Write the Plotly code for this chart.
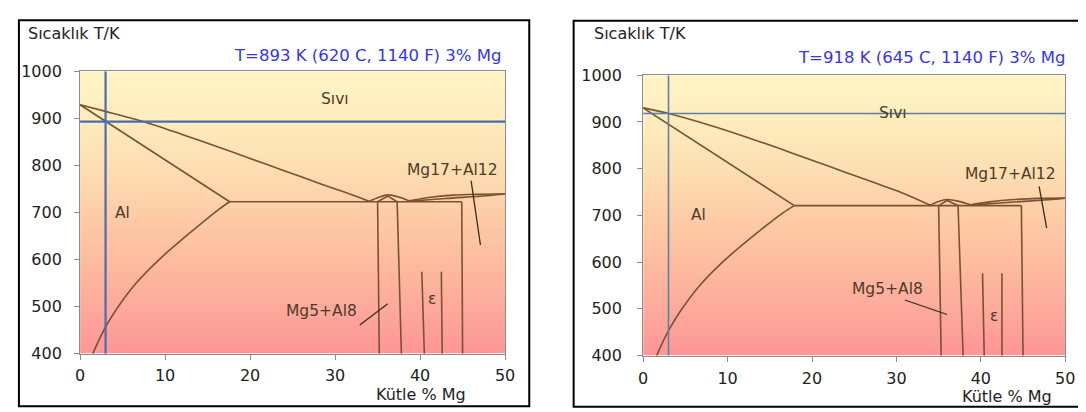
import plotly.graph_objects as go

W, H = 1086, 412

# ---------------- common data ----------------
x_ticks = [0, 10, 20, 30, 40, 50]
T_ticks = [400, 500, 600, 700, 800, 900, 1000]
bg_T = [400, 500, 600, 700, 800, 900, 1000]
bg_colors = ['#fe9696', '#fdaa9c', '#fdbc9f', '#fdcda6', '#fddfb2', '#feecbd', '#fff4c4']

mg_pct = 3
T_left = 893
T_right = 918

title_left = "T=893 K (620 C, 1140 F) 3% Mg"
title_right = "T=918 K (645 C, 1140 F) 3% Mg"
y_label = "Sıcaklık T/K"
x_label = "Kütle % Mg"

# ---------------- left panel data ----------------
L_liq_x = [0, 3, 7.7, 12, 16, 20, 24, 28, 31, 34.0]
L_liq_T = [929, 915, 892, 866, 841, 815, 789, 763, 744, 724]
L_sol_x = [0, 3, 10, 17.6]
L_sol_T = [929, 894, 811, 723]
L_svs_x = [1.5, 2.3, 3.1, 4.3, 6.5, 9.3, 12.8, 16.4, 17.6]
L_svs_T = [400, 432, 460, 495, 548, 600, 655, 708, 723]
L_eut_x = [17.6, 44.9]
L_eut_T = [723, 723]
L_hump_x = [34.0, 35.1, 36.2, 37.5, 38.7]
L_hump_T = [724, 732, 737.5, 733, 725]
L_tent_x = [35.0, 36.2, 37.3]
L_tent_T = [723, 735, 723]
L_up_x = [38.7, 41, 43.9, 47, 50]
L_up_T = [725, 732, 737, 739, 740]
L_lo_x = [38.7, 43, 47.8, 50]
L_lo_T = [724, 730, 735.7, 740]
L_vert_x = [[35.0, 35.2], [37.3, 37.8], [44.9, 45.0], [40.2, 40.5], [42.5, 42.6]]
L_vert_T = [[723, 400], [723, 400], [723, 400], [574, 400], [574, 400]]
L_ptr_x = [[46.0, 47.1], [32.9, 36.2]]
L_ptr_T = [[768, 631], [461, 506]]
L_lab = ["Sıvı", "Mg17+Al12", "Al", "Mg5+Al8", "ε"]
L_lab_x = [30.0, 43.8, 5.0, 28.4, 41.4]
L_lab_T = [942, 791, 700, 490, 517]

# ---------------- right panel data ----------------
R_liq_x = [0, 3, 7.7, 12, 16, 20, 24, 28, 31, 34.0]
R_liq_T = [930, 918, 894, 869, 844, 818, 792, 766, 746, 722]
R_sol_x = [0, 3, 11.3, 17.9]
R_sol_T = [930, 895, 797, 721]
R_svs_x = [1.6, 2.4, 3.2, 4.4, 6.6, 9.4, 12.9, 16.6, 17.9]
R_svs_T = [400, 432, 460, 495, 548, 600, 654, 706, 721]
R_eut_x = [17.9, 44.8]
R_eut_T = [721, 721]
R_hump_x = [34.0, 35.0, 36.0, 37.4, 38.9]
R_hump_T = [722, 730, 734, 730, 722]
R_tent_x = [35.0, 36.0, 37.3]
R_tent_T = [721, 732, 721]
R_up_x = [38.9, 41, 44, 47, 50]
R_up_T = [723, 729, 734, 736.5, 737]
R_lo_x = [38.9, 43, 47.5, 50]
R_lo_T = [722, 727.5, 733, 737]
R_vert_x = [[35.0, 35.3], [37.3, 37.9], [44.8, 45.0], [40.2, 40.4], [42.5, 42.5]]
R_vert_T = [[721, 400], [721, 400], [721, 400], [576, 400], [576, 400]]
R_ptr_x = [[46.9, 47.8], [31.0, 36.0]]
R_ptr_T = [[762, 673], [519, 488]]
R_lab = ["Sıvı", "Mg17+Al12", "Al", "Mg5+Al8", "ε"]
R_lab_x = [29.6, 43.5, 6.6, 29.0, 41.5]
R_lab_T = [919, 789, 700, 542, 485]

LINE = '#7a5232'
LAB = '#4f3a28'
FONT = 'DejaVu Sans'

fig = go.Figure()

cscale = [[(t - bg_T[0]) / (bg_T[-1] - bg_T[0]), c] for t, c in zip(bg_T, bg_colors)]


def panel(ax, liq, sol, svs, eut, hump, tent, up, lo, verts, ptrs, T_cut, blue_col, blue_w):
    xa = 'x' if ax == 1 else 'x2'
    ya = 'y' if ax == 1 else 'y2'
    fig.add_trace(go.Heatmap(x=[0, 50], y=bg_T, z=[[t, t] for t in bg_T],
                             colorscale=cscale, zmin=bg_T[0], zmax=bg_T[-1],
                             zsmooth='best', showscale=False, hoverinfo='skip',
                             xaxis=xa, yaxis=ya))
    curved = [liq, svs, hump, up, lo]
    straight = [sol, eut, tent]
    for sx, sy in curved:
        fig.add_trace(go.Scatter(x=sx, y=sy, mode='lines',
                                 line=dict(color=LINE, width=1.6, shape='spline', smoothing=0.8),
                                 hoverinfo='skip', showlegend=False, xaxis=xa, yaxis=ya))
    for sx, sy in straight:
        fig.add_trace(go.Scatter(x=sx, y=sy, mode='lines', line=dict(color=LINE, width=1.6),
                                 hoverinfo='skip', showlegend=False, xaxis=xa, yaxis=ya))
    for vx, vy in zip(*verts):
        fig.add_trace(go.Scatter(x=vx, y=vy, mode='lines', line=dict(color=LINE, width=1.6),
                                 hoverinfo='skip', showlegend=False, xaxis=xa, yaxis=ya))
    for px, py in zip(*ptrs):
        fig.add_trace(go.Scatter(x=px, y=py, mode='lines', line=dict(color='#3a2a20', width=1.3),
                                 hoverinfo='skip', showlegend=False, xaxis=xa, yaxis=ya))
    # blue cursor lines
    fig.add_trace(go.Scatter(x=[mg_pct, mg_pct], y=[T_ticks[0], T_ticks[-1]], mode='lines',
                             line=dict(color=blue_col, width=blue_w), hoverinfo='skip',
                             showlegend=False, xaxis=xa, yaxis=ya))
    fig.add_trace(go.Scatter(x=[x_ticks[0], x_ticks[-1]], y=[T_cut, T_cut], mode='lines',
                             line=dict(color=blue_col, width=blue_w), hoverinfo='skip',
                             showlegend=False, xaxis=xa, yaxis=ya))


panel(1, (L_liq_x, L_liq_T), (L_sol_x, L_sol_T), (L_svs_x, L_svs_T), (L_eut_x, L_eut_T),
      (L_hump_x, L_hump_T), (L_tent_x, L_tent_T), (L_up_x, L_up_T), (L_lo_x, L_lo_T),
      (L_vert_x, L_vert_T), (L_ptr_x, L_ptr_T), T_left, '#4a6cb4', 2.2)
panel(2, (R_liq_x, R_liq_T), (R_sol_x, R_sol_T), (R_svs_x, R_svs_T), (R_eut_x, R_eut_T),
      (R_hump_x, R_hump_T), (R_tent_x, R_tent_T), (R_up_x, R_up_T), (R_lo_x, R_lo_T),
      (R_vert_x, R_vert_T), (R_ptr_x, R_ptr_T), T_right, '#5a82a8', 1.6)

annotations = []
for labs, lx, lt, xr, yr in [(L_lab, L_lab_x, L_lab_T, 'x', 'y'), (R_lab, R_lab_x, R_lab_T, 'x2', 'y2')]:
    for t, x, y in zip(labs, lx, lt):
        annotations.append(dict(text=t, x=x, y=y, xref=xr, yref=yr, showarrow=False,
                                font=dict(family=FONT, size=15.5, color=LAB)))

# titles, axis names
for txt, xr, yc in [(title_left, 497, 40.5), (title_right, 1069, 42)]:
    annotations.append(dict(text=txt, x=xr / W, y=1 - yc / H, xref='paper', yref='paper',
                            xanchor='right', yanchor='middle', showarrow=False,
                            font=dict(family=FONT, size=16.5, color='#3535ee')))
for xl, yc in [(13, 17), (587, 17)]:
    annotations.append(dict(text=y_label, x=xl / W, y=1 - yc / H, xref='paper', yref='paper',
                            xanchor='left', yanchor='middle', showarrow=False,
                            font=dict(family=FONT, size=16, color='#222222')))
for xr, yc in [(461, 396), (1056, 398)]:
    annotations.append(dict(text=x_label, x=xr / W, y=1 - yc / H, xref='paper', yref='paper',
                            xanchor='right', yanchor='middle', showarrow=False,
                            font=dict(family=FONT, size=16, color='#222222')))

shapes = [
    dict(type='rect', xref='paper', yref='paper', x0=6 / W, x1=523.5 / W,
         y0=1 - 408 / H, y1=1 - 3.5 / H, line=dict(color='black', width=2)),
    dict(type='rect', xref='paper', yref='paper', x0=568.5 / W, x1=1088 / W,
         y0=1 - 408.5 / H, y1=1 - 4 / H, line=dict(color='black', width=2)),
]


def xax(dom, standoff):
    return dict(domain=dom, range=[x_ticks[0], x_ticks[-1]], tickvals=x_ticks, showgrid=False,
                zeroline=False, showline=True, linecolor='#8c8c8c', linewidth=1, mirror=True,
                ticks='outside', ticklen=5, tickcolor='#8c8c8c', ticklabelstandoff=standoff,
                tickfont=dict(family=FONT, size=16, color='#222222'), fixedrange=True)


def yax(dom, standoff, anchor):
    return dict(domain=dom, range=[T_ticks[0], T_ticks[-1]], tickvals=T_ticks, showgrid=False,
                zeroline=False, showline=True, linecolor='#8c8c8c', linewidth=1, mirror=True,
                ticks='outside', ticklen=5, tickcolor='#8c8c8c', ticklabelstandoff=standoff,
                tickfont=dict(family=FONT, size=16, color='#222222'), anchor=anchor, fixedrange=True)


fig.update_layout(
    width=W, height=H, margin=dict(l=0, r=0, t=0, b=0),
    paper_bgcolor='white', plot_bgcolor='white', showlegend=False,
    xaxis=dict(**xax([68 / W, 499 / W], 2), anchor='y'),
    yaxis=yax([1 - 353 / H, 1 - 57 / H], 9, 'x'),
    xaxis2=dict(**xax([639 / W, 1067 / W], 3), anchor='y2'),
    yaxis2=yax([1 - 355 / H, 1 - 61 / H], 12, 'x2'),
    annotations=annotations, shapes=shapes,
)

fig.write_html("out.html")
